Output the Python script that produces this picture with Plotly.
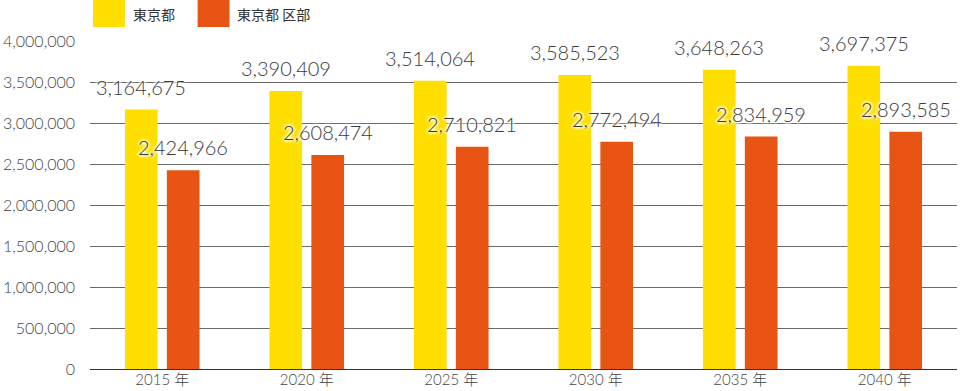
import plotly.graph_objects as go

years = ["2015 年", "2020 年", "2025 年", "2030 年", "2035 年", "2040 年"]
tokyo = [3164675, 3390409, 3514064, 3585523, 3648263, 3697375]
ku = [2424966, 2608474, 2710821, 2772494, 2834959, 2893585]
series_names = ["東京都", "東京都 区部"]
colors = ["#FFDF00", "#E85414"]
y_ticks = [0, 500000, 1000000, 1500000, 2000000, 2500000, 3000000, 3500000, 4000000]

FONT = "Lato, Noto Sans CJK JP, sans-serif"
JFONT = "Noto Sans CJK JP, sans-serif"
outline = "-2px 0 2px #fff, 2px 0 2px #fff, 0 -2px 2px #fff, 0 2px 2px #fff"

fig = go.Figure()
for name, vals, col in zip(series_names, [tokyo, ku], colors):
    fig.add_trace(go.Bar(
        x=years, y=vals, name=name, marker=dict(color=col, line=dict(width=0)),
        showlegend=False, hoverinfo="x+y",
    ))

# data labels (placed above each bar, offset to its group slot)
slot_shift = [-21, 21]
for vals, dx in zip([tokyo, ku], slot_shift):
    for yr, v in zip(years, vals):
        fig.add_annotation(x=yr, y=v, xref="x", yref="y", text=f"{v:,}",
                           showarrow=False, xanchor="center", yanchor="bottom",
                           xshift=dx, yshift=9,
                           font=dict(size=20, color="#3a3a3a", family=FONT,
                                     weight=300, shadow=outline))

fig.update_layout(
    width=960, height=391,
    margin=dict(l=87, r=3, t=41, b=22),
    paper_bgcolor="white", plot_bgcolor="white",
    barmode="group", bargap=0.42, bargroupgap=0.22,
    font=dict(family=FONT, color="#333", size=14),
)
fig.update_yaxes(
    range=[0, 4000000], tickvals=y_ticks,
    ticktext=[f"{v:,}" for v in y_ticks],
    showgrid=True, gridcolor="#6a6a6a", gridwidth=1,
    zeroline=True, zerolinecolor="#333", zerolinewidth=1,
    ticklabelstandoff=14, tickfont=dict(size=16, color="#444", weight=300),
)
fig.update_xaxes(showgrid=False, tickfont=dict(size=15, color="#444", weight=300),
                 ticklabelstandoff=0)

# custom legend with large swatches
legend_x = [90, 195]
for name, col, lx in zip(series_names, colors, legend_x):
    fig.add_shape(type="rect", xref="paper", yref="paper",
                  x0=(lx - 87) / 870, x1=(lx + 32 - 87) / 870,
                  y0=(369 - 27) / 328, y1=369 / 328,
                  fillcolor=col, line=dict(width=0))
    fig.add_annotation(xref="paper", yref="paper", x=(lx + 38 - 87) / 870,
                       y=(369 - 13.5) / 328, text=name, showarrow=False,
                       xanchor="left", yanchor="middle",
                       font=dict(size=14, color="#333", family=JFONT))

fig.write_html("out.html", config={"displayModeBar": False},
               post_script="document.body.style.margin='0';")
